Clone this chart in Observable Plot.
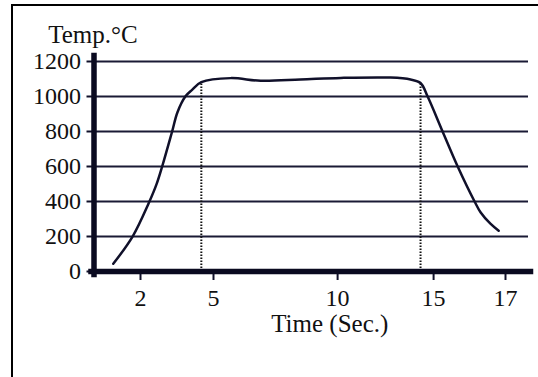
<!DOCTYPE html>
<html><head><meta charset="utf-8">
<script src="https://cdn.jsdelivr.net/npm/d3@7"></script>
<script src="https://cdn.jsdelivr.net/npm/@observablehq/plot@0.6"></script>
<style>
html,body{margin:0;padding:0;background:#fff;}
#wrap{position:relative;width:538px;height:377px;overflow:hidden;}
#border{position:absolute;left:11px;top:4px;width:540px;height:400px;border-left:2px solid #000;border-top:2px solid #000;pointer-events:none;}
</style></head><body>
<div id="wrap"><div id="chart"></div><div id="border"></div></div>
<script>
const time = [0.88, 1.68, 2.34, 2.66, 2.89, 3.3, 3.52, 3.85, 4.13, 4.5, 5.69, 6.9, 8.5, 10.16, 12.76, 13.8, 14.32, 14.69, 15.25, 15.67, 16.14, 16.31, 16.58, 16.81];
const temp = [44, 201, 391, 499, 600, 800, 910, 1001, 1039, 1082, 1105, 1090, 1097, 1106, 1108, 1097, 1077, 1000, 800, 600, 400, 337, 273, 233];
const gridTemps = [200, 400, 600, 800, 1000, 1200];
const xTicks = [2, 5, 10, 15, 17];
const yTicks = [0, 200, 400, 600, 800, 1000, 1200];
const markTimes = [4.5, 14.32];
const markTemps = [1082, 1077];
const yTitle = "Temp.°C";
const xTitle = "Time (Sec.)";

const curveData = time.map((t, i) => ({t, v: temp[i]}));
const markData = markTimes.map((t, i) => ({t, v: markTemps[i]}));
const FONT = '"Liberation Serif", "DejaVu Serif", serif';

// the source axis is unevenly spaced: piecewise-linear warp between tick values
const warp = d3.scaleLinear().domain(xTicks).range([0, 0.2, 0.54, 0.803, 1]);

const chart = Plot.plot({
  width: 538, height: 377,
  marginLeft: 93.5, marginRight: 10, marginTop: 61, marginBottom: 106,
  style: {fontFamily: FONT, fontSize: "24px", color: "#111", background: "#fff"},
  x: {type: "linear", domain: [0, 1], range: [140, 505], label: null},
  y: {domain: [0, 1200], label: null},
  marks: [
    Plot.ruleY(gridTemps, {stroke: "#1a1a35", strokeWidth: 2}),
    Plot.ruleX(markData, {x: d => warp(d.t), y1: 0, y2: "v", stroke: "#111", strokeWidth: 2, strokeDasharray: "1.5,1.5"}),
    Plot.line(curveData, {x: d => warp(d.t), y: "v", curve: "catmull-rom", stroke: "#10102a", strokeWidth: 2.5}),
    Plot.axisX({ticks: xTicks.map(warp), tickSize: 9, tickPadding: 8, strokeWidth: 2, stroke: "#10102a", label: null, tickFormat: d => String(Math.round(warp.invert(d))), fontSize: 24, fontFamily: FONT, fill: "#111"}),
    Plot.axisY({ticks: yTicks, tickSize: 7, tickPadding: 6, strokeWidth: 2, stroke: "#10102a", label: null, tickFormat: d => String(d), fontSize: 24, fontFamily: FONT, fill: "#111"}),
    Plot.frame({anchor: "left", stroke: "#0a0a20", strokeWidth: 5.5, insetTop: -6, insetBottom: -3}),
    Plot.frame({anchor: "bottom", stroke: "#0a0a20", strokeWidth: 5.5, insetLeft: -3, insetRight: -2}),
    Plot.text([yTitle], {frameAnchor: "top-left", dx: -1, dy: -27, textAnchor: "middle", lineAnchor: "middle", fontSize: 25, fontFamily: FONT, fill: "#111"}),
    Plot.text([xTitle], {frameAnchor: "bottom", dx: 18.5, dy: 52, lineAnchor: "middle", fontSize: 25, fontFamily: FONT, fill: "#111"})
  ]
});
document.getElementById("chart").appendChild(chart);
</script>
</body></html>
